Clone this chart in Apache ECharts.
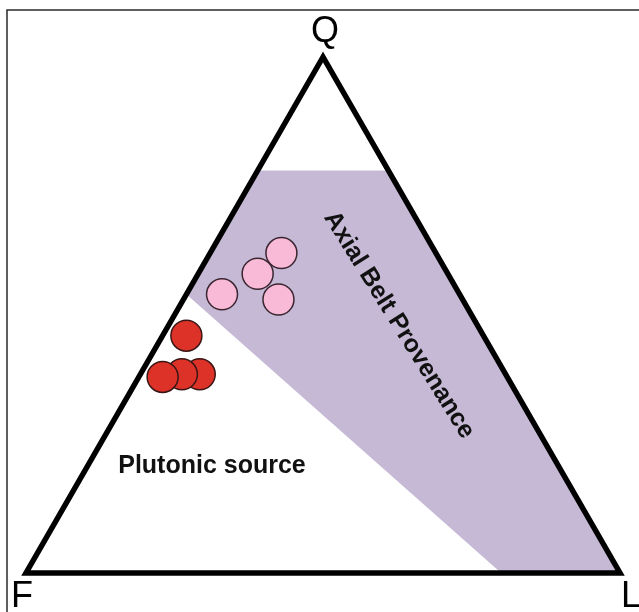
<!DOCTYPE html>
<html>
<head>
<meta charset="utf-8">
<script src="https://cdn.jsdelivr.net/npm/echarts@6/dist/echarts.min.js"></script>
<style>
    html, body { margin: 0; padding: 0; background: #fff; }
    #qflChart { width: 639px; height: 612px; }
</style>
</head>
<body>
<div id="qflChart"></div>
<script>
// 顶点 (Q, F, L 百分比)
var vertexNames = ['Q', 'F', 'L'];
var vertexQ = [100, 0, 0];
var vertexF = [0, 100, 0];
var vertexL = [0, 0, 100];

// Axial Belt Provenance 区域
var fieldQ = [78, 78, 0, 0, 54];
var fieldF = [22, 0, 0, 20, 46];
var fieldL = [0, 22, 100, 80, 0];

// 样品点
var pinkQ = [62, 58, 54, 53];
var pinkF = [26, 32, 40, 31];
var pinkL = [12, 10, 6, 16];

var redQ = [46, 38.5, 38.5, 38];
var redF = [50, 51.5, 54.5, 58];
var redL = [4, 10, 7, 4];

// 三角坐标 -> 直角坐标
var toXY = function (q, f, l) {
    var s = q + f + l;
    return [(l + q / 2) / s, q / s];
};
var buildPoints = function (qs, fs, ls) {
    var out = [];
    qs.forEach(function (q, i) {
        out.push(toXY(q, fs[i], ls[i]));
    });
    return out;
};

var trianglePts = buildPoints(vertexQ, vertexF, vertexL);
var fieldPts = buildPoints(fieldQ, fieldF, fieldL);

var polygonSeries = function (pts, style, z) {
    return {
        type: 'custom',
        coordinateSystem: 'cartesian2d',
        silent: true,
        z: z,
        data: [0],
        renderItem: function (params, api) {
            return {
                type: 'polygon',
                shape: {
                    points: pts.map(function (p) { return api.coord(p); })
                },
                style: style
            };
        }
    };
};

var myChart = echarts.init(document.getElementById('qflChart'));
var font = "'Liberation Sans', Arial, sans-serif";

var option = {
    backgroundColor: '#fff',
    animation: false,
    grid: { left: 26, right: 19, top: 57, bottom: 39 },
    xAxis: { type: 'value', min: 0, max: 1, show: false },
    yAxis: { type: 'value', min: 0, max: 1, show: false },
    graphic: [
        {
            type: 'rect',
            shape: { x: 7, y: 10, width: 700, height: 700 },
            style: { fill: 'none', stroke: '#2a2a2a', lineWidth: 1.5 },
            z: 100
        },
        {
            type: 'text', x: 325, y: 32, z: 100,
            style: { text: 'Q', font: '36px ' + font, fill: '#000', textAlign: 'center', textVerticalAlign: 'middle' }
        },
        {
            type: 'text', x: 22, y: 597, z: 100,
            style: { text: 'F', font: '36px ' + font, fill: '#000', textAlign: 'center', textVerticalAlign: 'middle' }
        },
        {
            type: 'text', x: 631, y: 597, z: 100,
            style: { text: 'L', font: '36px ' + font, fill: '#000', textAlign: 'center', textVerticalAlign: 'middle' }
        },
        {
            type: 'text', x: 212, y: 466, z: 100,
            style: { text: 'Plutonic source', font: 'bold 25px ' + font, fill: '#111', textAlign: 'center', textVerticalAlign: 'middle' }
        },
        {
            type: 'text', x: 399, y: 325, z: 100, rotation: -58 * Math.PI / 180,
            style: { text: 'Axial Belt Provenance', font: 'bold 25px ' + font, fill: '#111', textAlign: 'center', textVerticalAlign: 'middle' }
        }
    ],
    series: [
        polygonSeries(fieldPts, { fill: '#c6b9d6', stroke: 'none' }, 1),
        polygonSeries(trianglePts, { fill: 'none', stroke: '#000', lineWidth: 5.5, lineJoin: 'miter' }, 2),
        {
            name: 'Axial Belt',
            type: 'scatter',
            z: 3,
            symbolSize: 31,
            itemStyle: { color: '#f8bad6', borderColor: '#3a2530', borderWidth: 1.5, opacity: 1 },
            data: buildPoints(pinkQ, pinkF, pinkL)
        },
        {
            name: 'Plutonic',
            type: 'scatter',
            z: 4,
            symbolSize: 31,
            itemStyle: { color: '#dc3228', borderColor: '#3a1515', borderWidth: 1.5, opacity: 1 },
            data: buildPoints(redQ, redF, redL)
        }
    ]
};
myChart.setOption(option);
</script>
</body>
</html>
